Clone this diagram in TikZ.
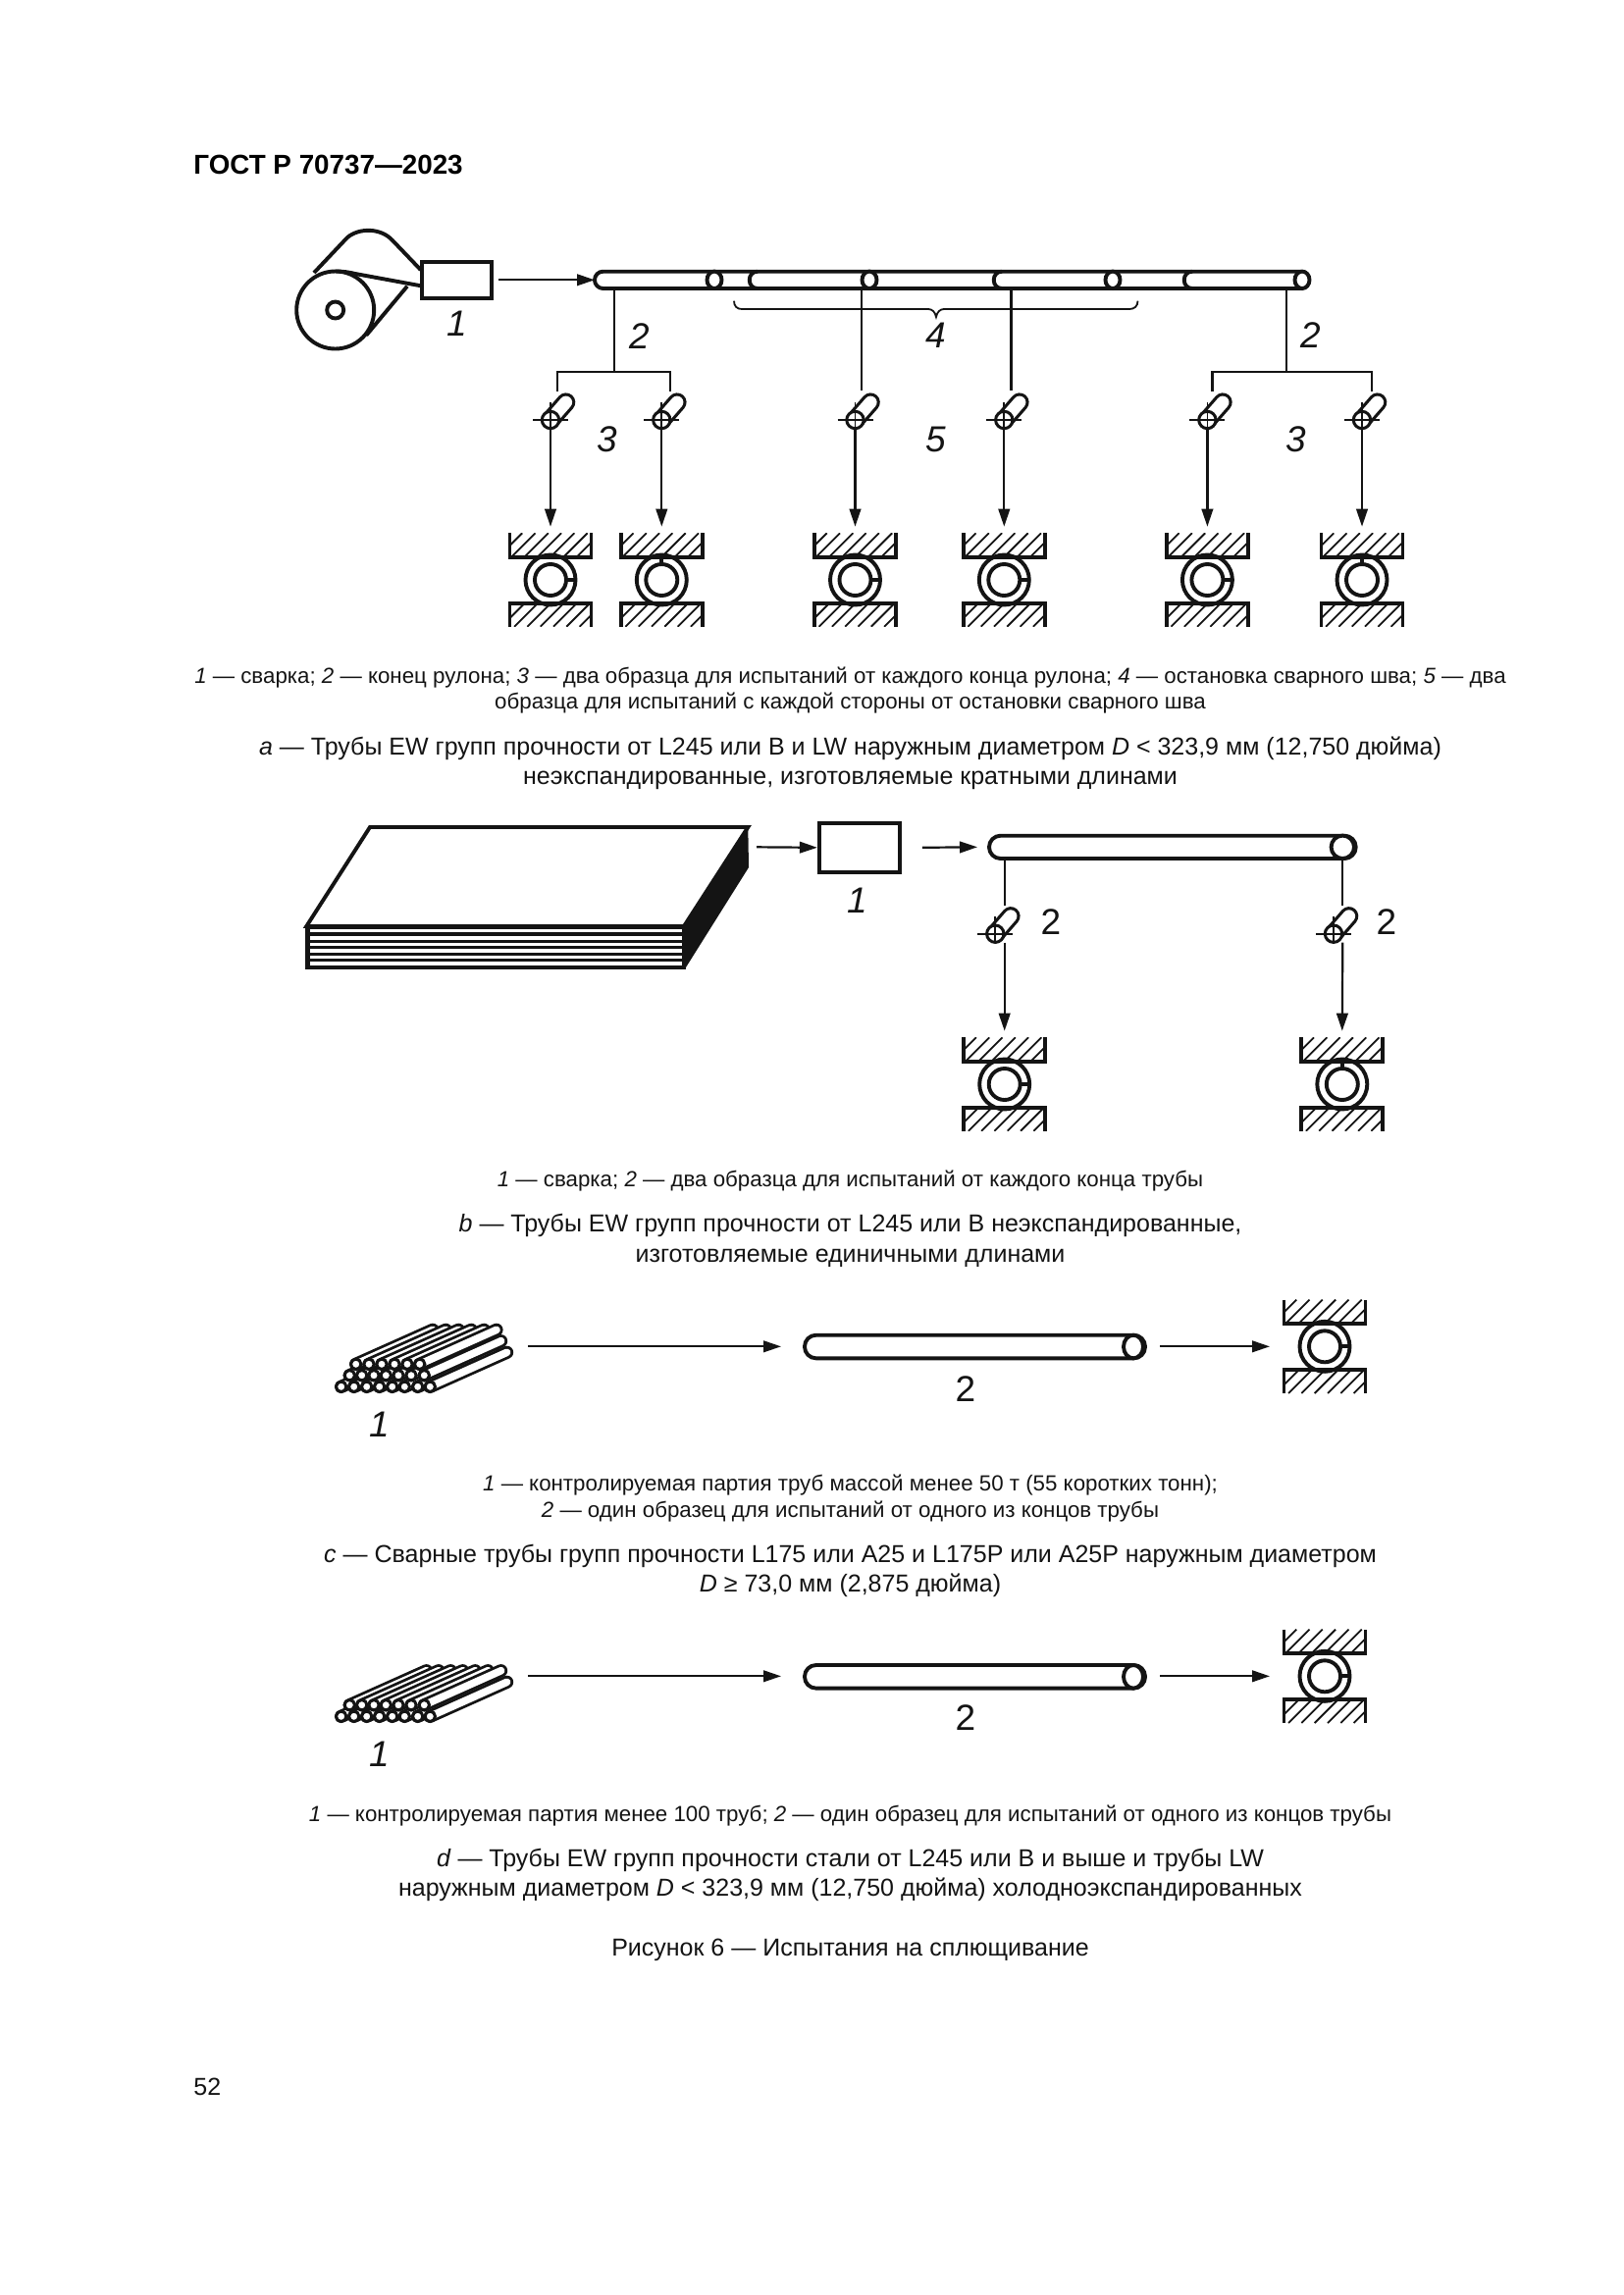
\documentclass[tikz,border=0pt]{standalone}
\usepackage{fontspec}
\setmainfont{Liberation Sans}
\usetikzlibrary{arrows.meta}
\tikzset{
  heavy/.style={line width=1.95pt,black!92},
  thinl/.style={line width=1.15pt,black!92},
  hair/.style={line width=0.9pt,black!92},
  flow/.style={line width=1.1pt,black!92,-{Triangle[length=9pt,width=5.8pt]}},
  lab/.style={font=\fontsize{18.5}{20}\selectfont\itshape,inner sep=0pt,anchor=center,text=black!92,xshift=0.5pt},
  upl/.style={font=\fontsize{18.5}{20}\selectfont},
  capt/.style={font=\fontsize{11.15}{13}\selectfont,inner sep=0pt,anchor=base,text=black!92,yshift=0.75pt},
  mainl/.style={font=\fontsize{12.5}{15}\selectfont,inner sep=0pt,anchor=base,text=black!92,yshift=0.75pt}
}
% sample: name, x, y
\newcommand\samplemark[3]{%
  \coordinate (#1) at (#2,#3);
  \coordinate (#1-bot) at (#2,#3+9);
  \draw[line width=9.6pt,black!92,line cap=round] (#2,#3)--(#2+15.7,#3-18);
  \draw[line width=6.4pt,white,line cap=round] (#2,#3)--(#2+15.7,#3-18);
  \draw[line width=1.5pt,black!92,fill=white] (#2,#3) circle[radius=8.7];
  \draw[hair] (#2-18,#3)--(#2+18,#3);
  \draw[hair] (#2,#3-18)--(#2,#3+9);
}
% press: name, x, cy, weld direction dx, dy
\newcommand\pressmark[5]{%
  \coordinate (#1) at (#2,#3);
  \coordinate (#1-top) at (#2,#3-54.3);
  \begin{scope}[shift={(#2,#3)}]
    \begin{scope}
      \clip (-41.5,-47.7) rectangle (41.5,-23.3);
      \foreach \i in {-6,...,5}{\draw[hair] (\i*13.3,-23.3)--++(24.4,-24.4);}
    \end{scope}
    \begin{scope}
      \clip (-41.5,47.7) rectangle (41.5,24);
      \foreach \i in {-6,...,5}{\draw[hair] (\i*13.3+3,47.7)--++(23.7,-23.7);}
    \end{scope}
    \draw[heavy] (-41.5,-47.7)--(-41.5,-23.3)--(41.5,-23.3)--(41.5,-47.7);
    \draw[heavy] (-41.5,47.7)--(-41.5,24)--(41.5,24)--(41.5,47.7);
    \draw[heavy] (0,0) circle[radius=25.5];
    \draw[heavy] (0,0) circle[radius=16];
    \draw[heavy] (#4*16,#5*16)--(#4*25.5,#5*25.5);
  \end{scope}
}
\newcommand\rodback[2]{%
  \draw[line width=6.6pt,black!92,line cap=round] (#1,#2)--++(78.3,-35);
  \draw[line width=3.8pt,white,line cap=round] (#1,#2)--++(78.3,-35);
}
\newcommand\rodfront[2]{\draw[line width=1.5pt,black!92,fill=white] (#1,#2) circle[radius=5.2];}
\begin{document}
\begin{tikzpicture}[x=0.5pt,y=-0.5pt]
\useasboundingbox (0,0) rectangle (1654,2339);
\fill[white] (0,0) rectangle (1654,2339);

\node[font=\fontsize{13.9}{16}\selectfont\bfseries,inner sep=0pt,anchor=base west] (head) at (197,177) {ГОСТ Р 70737—2023};

%% --- part a ---
\draw[heavy] (320,278)--(354,242) .. controls (366,232) and (388,232) .. (400,245)--(428.7,275);
\draw[heavy,fill=white] (341.7,316) circle[radius=39.5];
\draw[heavy] (341.7,276.5) .. controls (350,276.5) and (356,277.5) .. (362,279)--(430,291.5);
\draw[heavy] (415,291.7)--(373.3,341.7);
\draw[heavy] (341.7,316) circle[radius=8.5];
\node[draw,heavy,fill=white,inner sep=0pt,minimum width=35.5pt,minimum height=18.5pt] (weldA) at (465.8,285.3) {};
\node[lab] (l1a) at (465,330) {1};

\coordinate (pipeA) at (606,285.3);
\draw[flow] (weldA.east)++(5,0)--(pipeA);
\draw[heavy,fill=white,rounded corners=4.3pt] (606,276.7) rectangle (1333,294);
\foreach \x in {728,886,1134}{\draw[heavy,fill=white] (\x,285.3) circle[x radius=7.5,y radius=8.7];}
\draw[heavy,fill=white] (1327,285.3) circle[x radius=7.5,y radius=8.7];
\foreach \x in {763,1012,1206}{\draw[heavy] (\x+9,276.7) .. controls (\x-2,276.7) and (\x-2,294) .. (\x+9,294);}

\draw[hair] (748,306.7) .. controls (748,312) and (751,315) .. (756,315)--(946,315) .. controls (950,315) and (953,318) .. (954,323) .. controls (955,318) and (958,315) .. (962,315)--(1151,315) .. controls (1156,315) and (1159.5,312) .. (1159.5,306.7);

\coordinate (jL) at (625.7,379); \coordinate (jR) at (1311,379);
\coordinate (dA) at (568.3,399); \coordinate (dB) at (683.3,399);
\coordinate (dC) at (877.8,398); \coordinate (dD) at (1030.4,398);
\coordinate (dE) at (1235.4,399); \coordinate (dF) at (1398.3,399);
\draw[thinl] (625.7,294)--(jL);
\draw[thinl] (dA)--(568.3,379)--(683.3,379)--(dB);
\draw[thinl] (1311,294)--(jR);
\draw[thinl] (dE)--(1235.4,379)--(1398.3,379)--(dF);
\draw[thinl] (877.8,294)--(dC);
\draw[thinl] (1030.4,294)--(dD);

\samplemark{sA}{561}{428}\samplemark{sB}{674.3}{428}
\samplemark{sC}{871.5}{428}\samplemark{sD}{1023.3}{428}
\samplemark{sE}{1230.4}{428}\samplemark{sF}{1388}{428}
\pressmark{pA}{561}{591}{1}{0}\pressmark{pB}{674.3}{591}{0}{-1}
\pressmark{pC}{871.5}{591}{1}{0}\pressmark{pD}{1023.3}{591}{1}{0}
\pressmark{pE}{1230.4}{591}{1}{0}\pressmark{pF}{1388}{591}{0}{-1}
\foreach \n in {A,B,C,D,E,F}{\draw[flow] (s\n-bot)--(p\n-top);}

\node[lab] (l2a) at (651,343) {2};
\node[lab] (l3a) at (617.7,448) {3};
\node[lab] (l4a) at (953,342) {4};
\node[lab] (l5a) at (953,448) {5};
\node[lab] (l2b) at (1334.5,342) {2};
\node[lab] (l3b) at (1320,448) {3};

\node[capt] (ca1) at (866.5,698) {\textit{1} — сварка; \textit{2} — конец рулона; \textit{3} — два образца для испытаний от каждого конца рулона; \textit{4} — остановка сварного шва; \textit{5} — два};
\node[capt] (ca2) at (866.5,724) {образца для испытаний с каждой стороны от остановки сварного шва};
\node[mainl] (ma1) at (866.5,771) {\textit{a} — Трубы EW групп прочности от L245 или B и LW наружным диаметром \textit{D} < 323,9 мм (12,750 дюйма)};
\node[mainl] (ma2) at (866.5,801) {неэкспандированные, изготовляемые кратными длинами};

%% --- part b ---
\fill[black!92] (762.3,843)--(763,884)--(698.5,986.7)--(697,944)--cycle;
\draw[heavy,fill=white,line join=miter] (377,843)--(762.3,843)--(697,944)--(312.3,944)--cycle;
\fill[black!92] (311,944) rectangle (698.5,987.5);
\foreach \y in {948.7,956,962.3,969,975.3,982}{\fill[white] (316,\y-1.7) rectangle (695,\y+1.7);}
\node[draw,heavy,fill=white,inner sep=0pt,minimum width=41pt,minimum height=25pt] (weldB) at (875.8,863.8) {};
\coordinate (plateB) at (771,863.3);
\coordinate (pipeB) at (996,863.3);
\draw[flow] (plateB)--(weldB.west);
\draw[flow] (weldB.east)++(21,0)--(pipeB);
\node[lab] (l1c) at (872.6,918) {1};
\draw[heavy,fill=white,rounded corners=5.8pt] (1008,851.7) rectangle (1381.7,875);
\draw[heavy,fill=white] (1368.3,863.3) circle[radius=11.7];
\draw[thinl] (1023.7,875)--(1023.7,923);
\draw[thinl] (1368.3,875)--(1368.3,923);
\samplemark{sG}{1014.3}{951.7}\samplemark{sH}{1359}{951.7}
\coordinate (sGa) at (1023.7,960.7); \coordinate (sHa) at (1368.3,960.7);
\pressmark{pG}{1023.7}{1105}{1}{0}\pressmark{pH}{1367.8}{1105}{0}{-1}
\draw[flow] (sGa)--(pG-top);
\draw[flow] (sHa)--(pH-top);
\node[lab,upl] (l2c) at (1070,940) {2};
\node[lab,upl] (l2d) at (1412,940) {2};

\node[capt] (cb1) at (866.5,1211) {\textit{1} — сварка; \textit{2} — два образца для испытаний от каждого конца трубы};
\node[mainl] (mb1) at (866.5,1257) {\textit{b} — Трубы EW групп прочности от L245 или B неэкспандированные,};
\node[mainl] (mb2) at (866.5,1288) {изготовляемые единичными длинами};

%% --- part c ---
\foreach \x in {347.7,360.7,373.7,386.7,399.7,412.3,425.7,438.3}{\rodback{\x}{1413.3}}
\foreach \x in {356.3,368.7,381,393.3,406,419,432.3}{\rodback{\x}{1401.7}}
\foreach \x in {362.7,376,389,402,415,427.7}{\rodback{\x}{1390.3}}
\foreach \x in {347.7,360.7,373.7,386.7,399.7,412.3,425.7,438.3}{\rodfront{\x}{1413.3}}
\foreach \x in {356.3,368.7,381,393.3,406,419,432.3}{\rodfront{\x}{1401.7}}
\foreach \x in {362.7,376,389,402,415,427.7}{\rodfront{\x}{1390.3}}
\coordinate (bunC) at (538,1372.3); \coordinate (pipeC) at (796,1372.3);
\draw[flow] (bunC)--(pipeC);
\draw[heavy,fill=white,rounded corners=5.8pt] (820,1360.7) rectangle (1167,1384.3);
\draw[heavy,fill=white] (1155,1372.5) circle[x radius=10,y radius=11.8];
\pressmark{pI}{1350}{1372.3}{1}{0}
\coordinate (pipeCe) at (1182,1372.3); \coordinate (pI-l) at (1294,1372.3);
\draw[flow] (pipeCe)--(pI-l);
\node[lab] (l1e) at (386,1451.7) {1};
\node[lab,upl] (l2e) at (983,1415.7) {2};
\node[capt] (cc1) at (866.5,1521) {\textit{1} — контролируемая партия труб массой менее 50 т (55 коротких тонн);};
\node[capt] (cc2) at (866.5,1548) {\textit{2} — один образец для испытаний от одного из концов трубы};
\node[mainl] (mc1) at (866.5,1594) {\textit{c} — Сварные трубы групп прочности L175 или A25 и L175P или A25P наружным диаметром};
\node[mainl] (mc2) at (866.5,1624) {\textit{D} ≥ 73,0 мм (2,875 дюйма)};

%% --- part d ---
\foreach \x in {347.7,360.7,373.7,386.7,399.7,412.3,425.7,438.3}{\rodback{\x}{1749.3}}
\foreach \x in {356.3,368.7,381,393.3,406,419,432.3}{\rodback{\x}{1737.7}}
\foreach \x in {347.7,360.7,373.7,386.7,399.7,412.3,425.7,438.3}{\rodfront{\x}{1749.3}}
\foreach \x in {356.3,368.7,381,393.3,406,419,432.3}{\rodfront{\x}{1737.7}}
\coordinate (bunD) at (538,1708.3); \coordinate (pipeD) at (796,1708.3);
\draw[flow] (bunD)--(pipeD);
\draw[heavy,fill=white,rounded corners=5.8pt] (820,1697) rectangle (1167,1720.6);
\draw[heavy,fill=white] (1155,1708.8) circle[x radius=10,y radius=11.8];
\pressmark{pJ}{1350}{1708.3}{1}{0}
\coordinate (pipeDe) at (1182,1708.3); \coordinate (pJ-l) at (1294,1708.3);
\draw[flow] (pipeDe)--(pJ-l);
\node[lab] (l1f) at (386,1787.7) {1};
\node[lab,upl] (l2f) at (983,1751) {2};
\node[capt] (cd1) at (866.5,1858) {\textit{1} — контролируемая партия менее 100 труб; \textit{2} — один образец для испытаний от одного из концов трубы};
\node[mainl] (md1) at (866.5,1904) {\textit{d} — Трубы EW групп прочности стали от L245 или B и выше и трубы LW};
\node[mainl] (md2) at (866.5,1934) {наружным диаметром \textit{D} < 323,9 мм (12,750 дюйма) холодноэкспандированных};
\node[mainl] (fig) at (866.5,1995) {Рисунок 6 — Испытания на сплющивание};
\node[mainl,anchor=base west] (pg) at (197,2137) {52};
\end{tikzpicture}
\end{document}
